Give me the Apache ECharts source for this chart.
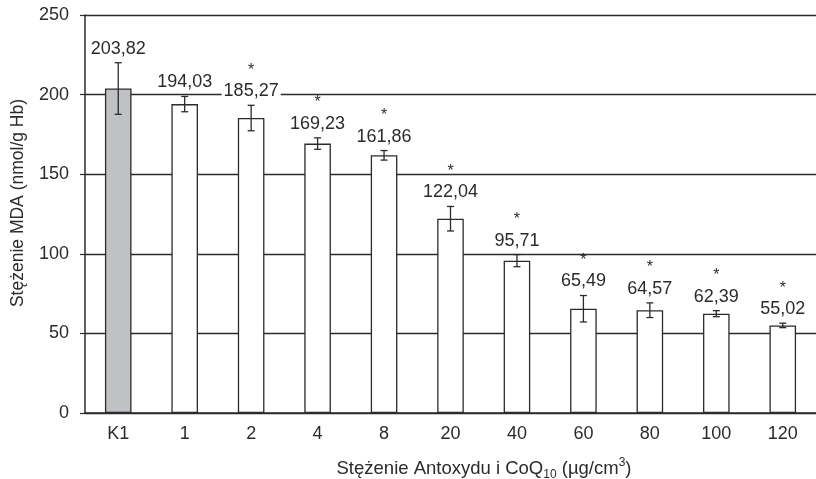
<!DOCTYPE html>
<html>
<head>
<meta charset="utf-8">
<script src="https://cdn.jsdelivr.net/npm/echarts@6/dist/echarts.min.js"></script>
<style>
  html, body { margin: 0; padding: 0; background: #fff; }
  #chart { width: 816px; height: 479px; }
</style>
</head>
<body>
<div id="chart"></div>
<script>
// categories (Antoxyd + CoQ10 concentration, µg/cm3)
const categories = ['K1', '1', '2', '4', '8', '20', '40', '60', '80', '100', '120']
// mean MDA concentration (nmol/g Hb)
const meanValues = [203.82, 194.03, 185.27, 169.23, 161.86, 122.04, 95.71, 65.49, 64.57, 62.39, 55.02]
// error bar half-widths
const errValues = [16.2, 4.8, 8.0, 3.6, 3.0, 7.7, 3.8, 8.3, 4.6, 1.9, 1.4]
// statistically significant marks (*)
const significant = [false, false, true, true, true, true, true, true, true, true, true]
const yTicks = [0, 50, 100, 150, 200, 250]

const FONT = '"Liberation Sans", Arial, sans-serif'
const INK = '#2b2b2b'

const chart = echarts.init(document.getElementById('chart'), null, { renderer: 'canvas' })

const fmt = (v) => v.toFixed(2).replace('.', ',')

const option = {
  animation: false,
  backgroundColor: '#fff',
  // plot runs slightly past the right edge, as in the cropped original
  grid: { left: 85, width: 740, top: 15, height: 398 },
  xAxis: {
    type: 'category',
    data: categories,
    axisLine: { lineStyle: { color: INK, width: 1.5 } },
    axisTick: { inside: true, length: 6, lineStyle: { color: INK, width: 1.2 } },
    axisLabel: { color: INK, fontFamily: FONT, fontSize: 18, margin: 12 }
  },
  yAxis: {
    type: 'value',
    min: yTicks[0],
    max: yTicks[yTicks.length - 1],
    interval: 50,
    axisLine: { show: true, lineStyle: { color: INK, width: 1.5 } },
    axisTick: { show: true, length: 5, lineStyle: { color: INK, width: 1.2 } },
    axisLabel: { color: INK, fontFamily: FONT, fontSize: 18, margin: 16 },
    splitLine: { lineStyle: { color: INK, width: 1.3 } }
  },
  graphic: [
    {
      type: 'text',
      x: 18,
      y: 203,
      rotation: Math.PI / 2,
      style: {
        text: 'Stężenie MDA (nmol/g Hb)',
        fontFamily: FONT,
        fontSize: 17.5,
        fill: INK,
        textAlign: 'center',
        textVerticalAlign: 'middle'
      }
    },
    {
      type: 'text',
      x: 484,
      y: 469,
      style: {
        text: '{a|Stężenie Antoxydu i CoQ}{sub|10}{a| (µg/cm}{sup|3}{a|)}',
        textAlign: 'center',
        textVerticalAlign: 'middle',
        rich: {
          a: { fontFamily: FONT, fontSize: 18.5, fill: INK, lineHeight: 24, verticalAlign: 'middle' },
          sub: { fontFamily: FONT, fontSize: 12, fill: INK, lineHeight: 12, verticalAlign: 'bottom' },
          sup: { fontFamily: FONT, fontSize: 12, fill: INK, lineHeight: 12, verticalAlign: 'top' }
        }
      }
    }
  ],
  series: [
    {
      type: 'bar',
      barWidth: '40%',
      data: meanValues.map((v, i) => ({
        value: v,
        itemStyle: { color: i === 0 ? '#c0c1c4' : '#ffffff' }
      })),
      itemStyle: { borderColor: INK, borderWidth: 1.3 },
      z: 3
    },
    {
      type: 'custom',
      z: 5,
      data: meanValues.map((v, i) => [i, v, errValues[i], significant[i] ? 1 : 0]),
      renderItem: function (params, api) {
        const i = api.value(0)
        const m = api.value(1)
        const e = api.value(2)
        const sig = api.value(3)
        const top = api.coord([i, m + e])
        const bot = api.coord([i, m - e])
        const x = top[0]
        const cw = 3.5
        const ls = { stroke: INK, lineWidth: 1.3 }
        const children = [
          { type: 'line', shape: { x1: x, y1: top[1], x2: x, y2: bot[1] }, style: ls },
          { type: 'line', shape: { x1: x - cw, y1: top[1], x2: x + cw, y2: top[1] }, style: ls },
          { type: 'line', shape: { x1: x - cw, y1: bot[1], x2: x + cw, y2: bot[1] }, style: ls },
          {
            type: 'text',
            x: x,
            y: top[1] - 14,
            style: {
              text: fmt(m),
              fontFamily: FONT,
              fontSize: 18,
              fill: INK,
              align: 'center',
              verticalAlign: 'middle',
              backgroundColor: '#fff',
              padding: [0, 2]
            }
          }
        ]
        if (sig) {
          children.push({
            type: 'text',
            x: x,
            y: top[1] - 35,
            style: {
              text: '*',
              fontFamily: FONT,
              fontSize: 16,
              fill: INK,
              align: 'center',
              verticalAlign: 'middle'
            }
          })
        }
        return { type: 'group', children: children }
      }
    }
  ]
}

chart.setOption(option)
</script>
</body>
</html>
